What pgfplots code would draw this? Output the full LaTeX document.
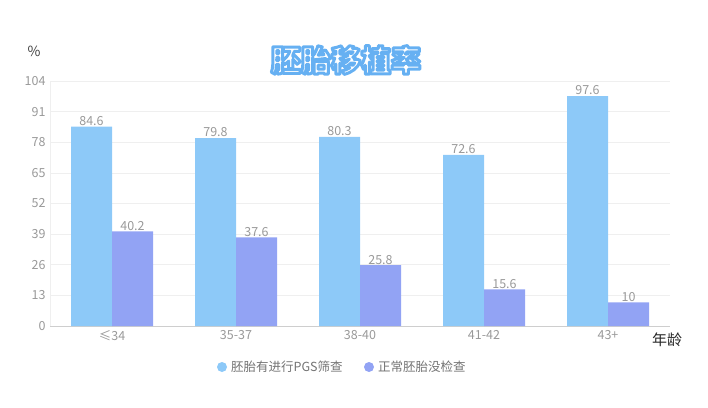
\documentclass[border=0pt]{standalone}
\usepackage{pgfplots}
\pgfplotsset{compat=1.18}
\usepackage{fontspec}
\setmainfont{Noto Sans CJK SC}
\definecolor{cA}{HTML}{8DC9F8}
\definecolor{cB}{HTML}{92A3F4}
\definecolor{tgrey}{HTML}{999999}
\definecolor{gridc}{HTML}{EFEFEF}
\definecolor{titleblue}{HTML}{5FA8F0}
\newcommand{\outlined}[1]{\special{pdf:literal direct 2 Tr 3 w 1 J 1 j 0.40 0.69 0.95 RG}#1\special{pdf:literal direct 0 Tr}}
\begin{document}
\begin{tikzpicture}[x=1pt,y=1pt]
\useasboundingbox (0,0) rectangle (708,407);
\begin{axis}[
  at={(50pt,81pt)}, anchor=south west,
  scale only axis, width=620pt, height=245pt,
  xmin=-0.5, xmax=4.5, ymin=0, ymax=104,
  ytick={0,13,26,39,52,65,78,91,104},
  xtick={0,1,2,3,4},
  xticklabels={≤34,35-37,38-40,41-42,43+},
  /pgf/number format/assume math mode=true,
  ticklabel style={font=\fontsize{12.5}{14}\selectfont, text=tgrey},
  ymajorgrids, major grid style={draw=gridc, line width=0.6pt},
  axis x line*=bottom, axis y line*=left,
  axis line style={draw=gridc!70!gray, line width=0.8pt},
  x axis line style={-}, y axis line style={-, draw=gridc},
  major tick length=0pt,
  xticklabel style={yshift=-1pt},
  yticklabel style={xshift=-1pt},
  ybar=0pt, bar width=41pt,
  nodes near coords,
  every node near coord/.append style={font=\fontsize{12.5}{14}\selectfont, text=tgrey, yshift=-2.5pt},
  clip=false,
]
\addplot[fill=cA, draw=none] coordinates {(0,84.6) (1,79.8) (2,80.3) (3,72.6) (4,97.6)};
\addplot[fill=cB, draw=none] coordinates {(0,40.2) (1,37.6) (2,25.8) (3,15.6) (4,10)};
\end{axis}
% axis label texts
\node[font=\fontsize{14}{16}\selectfont, text=black!75] at (34,356) {\%};
\node[font=\fontsize{15}{17}\selectfont, text=black!85] at (667,67) {年龄};
% title with outline
\node[font=\fontsize{30}{32}\bfseries\selectfont, text=white] at (346,347) {\outlined{胚胎移植率}};
% legend
\fill[cA] (222,40) circle (5);
\node[anchor=west, font=\fontsize{12.5}{14}\selectfont, text=black!55, inner sep=0pt] at (231,40) {胚胎有进行PGS筛查};
\fill[cB] (369,40) circle (5);
\node[anchor=west, font=\fontsize{12.5}{14}\selectfont, text=black!55, inner sep=0pt] at (378,40) {正常胚胎没检查};
\end{tikzpicture}
\end{document}
